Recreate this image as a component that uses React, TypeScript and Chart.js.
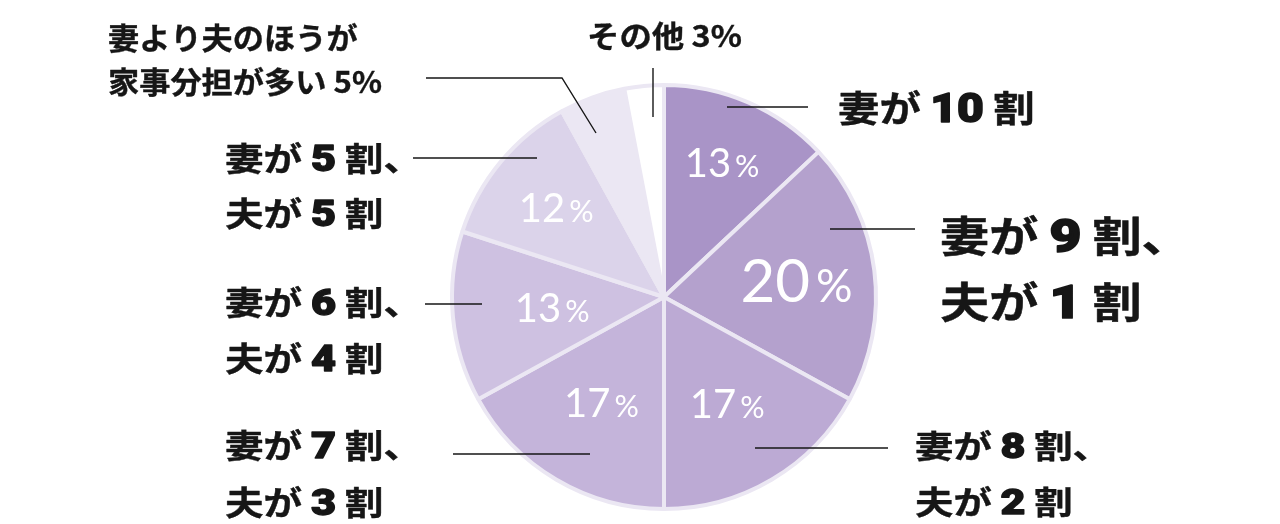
import { useEffect, useRef } from 'react';
import { Chart, ArcElement, PieController, type Plugin } from 'chart.js';

Chart.register(ArcElement, PieController);

// 家事分担の割合（妻:夫）
const categories = [
  '妻が10割',
  '妻が9割、夫が1割',
  '妻が8割、夫が2割',
  '妻が7割、夫が3割',
  '妻が6割、夫が4割',
  '妻が5割、夫が5割',
  '妻より夫のほうが家事分担が多い',
  'その他',
];
const shares = [13, 20, 17, 17, 13, 12, 5, 3];
const calloutLines = [
  ['妻が 10 割'],
  ['妻が 9 割、', '夫が 1 割'],
  ['妻が 8 割、', '夫が 2 割'],
  ['妻が 7 割、', '夫が 3 割'],
  ['妻が 6 割、', '夫が 4 割'],
  ['妻が 5 割、', '夫が 5 割'],
  ['妻より夫のほうが', '家事分担が多い 5%'],
  ['その他 3%'],
];

const sliceColors = ['#a994c7', '#b4a1cd', '#bcaad4', '#c4b4da', '#cec1e1', '#dbd3ea', '#ebe7f3', '#ffffff'];
const edgeColor = '#ebe7f3';
const ink = '#161616';
const CJK = '"Noto Sans CJK JP", "Noto Sans CJK SC", sans-serif';

// callout placement, offsets from the pie centre
const callouts = [
  { tx: 174, ty: [-189], size: 36, sx: 1.15, lead: [[63, -190], [144, -190]] },
  { tx: 276, ty: [-61, 5], size: 42, sx: 1.17, lead: [[166, -68], [251, -68]] },
  { tx: 251, ty: [149, 205], size: 32, sx: 1.2, lead: [[91, 151], [224, 151]] },
  { tx: -439, ty: [148, 205], size: 33, sx: 1.17, lead: [[-211, 157], [-74, 157]] },
  { tx: -439, ty: [5, 61], size: 33, sx: 1.17, lead: [[-239, 7], [-182, 7]] },
  { tx: -439, ty: [-139, -84], size: 33, sx: 1.17, lead: [[-251, -139], [-127, -139]] },
  { tx: -556, ty: [-259, -215], size: 30, sx: 1.04, lead: [[-238, -219], [-102, -219], [-68, -164]] },
  { tx: -77, ty: [-261], size: 30, sx: 1.08, lead: [[-11, -229], [-11, -180]] },
];

// percent labels inside slices: radius fraction + font size
const innerLabels = [
  { r: 0.69, size: 40 },
  { r: 0.63, size: 60 },
  { r: 0.585, size: 40 },
  { r: 0.58, size: 40 },
  { r: 0.53, size: 40 },
  { r: 0.66, size: 40 },
  null,
  null,
];

function drawRuns(ctx: CanvasRenderingContext2D, text: string, x: number, y: number, size: number, sx: number) {
  const parts = text.split(/(\d+)(?= 割)/);
  ctx.save();
  ctx.translate(x, y + size * 0.38);
  ctx.scale(sx, 1);
  ctx.textAlign = 'left';
  ctx.textBaseline = 'alphabetic';
  ctx.fillStyle = ink;
  ctx.strokeStyle = ink;
  ctx.lineJoin = 'round';
  let cur = 0;
  parts.forEach((p, i) => {
    const isNum = i % 2 === 1;
    ctx.font = isNum ? `900 ${size * 1.12}px Roboto, Lato` : `700 ${size}px ${CJK}`;
    ctx.fillText(p, cur, 0);
    ctx.lineWidth = isNum ? size * 0.04 : size * 0.012;
    ctx.strokeText(p, cur, 0);
    cur += ctx.measureText(p).width;
  });
  ctx.restore();
}

function drawPct(ctx: CanvasRenderingContext2D, value: number, x: number, y: number, size: number) {
  const num = String(value);
  const big = `400 ${size}px Lato`;
  const small = `400 ${size * 0.76}px Lato`;
  ctx.font = big;
  const w1 = ctx.measureText(num).width;
  ctx.font = small;
  const w2 = ctx.measureText('%').width;
  const gap = size * 0.1;
  const left = x - (w1 + gap + w2) / 2;
  const base = y + size * 0.36;
  ctx.fillStyle = '#ffffff';
  ctx.textAlign = 'left';
  ctx.textBaseline = 'alphabetic';
  ctx.font = big;
  ctx.fillText(num, left, base);
  ctx.font = small;
  ctx.fillText('%', left + w1 + gap, base);
}

const labelPlugin: Plugin<'pie'> = {
  id: 'pieLabels',
  afterDraw(chart) {
    const { ctx } = chart;
    const arcs = chart.getDatasetMeta(0).data as any[];
    if (!arcs.length) return;
    const cx = arcs[0].x;
    const cy = arcs[0].y;
    ctx.save();

    arcs.forEach((arc, i) => {
      const lab = innerLabels[i];
      if (!lab) return;
      const { startAngle, endAngle, outerRadius } = arc.getProps(['startAngle', 'endAngle', 'outerRadius'], true);
      const mid = (startAngle + endAngle) / 2;
      const r = outerRadius * lab.r;
      drawPct(ctx, shares[i], cx + Math.cos(mid) * r, cy + Math.sin(mid) * r, lab.size);
    });

    callouts.forEach((c, i) => {
      ctx.strokeStyle = ink;
      ctx.lineWidth = 1.4;
      ctx.beginPath();
      c.lead.forEach(([dx, dy], k) => {
        if (k === 0) ctx.moveTo(cx + dx, cy + dy);
        else ctx.lineTo(cx + dx, cy + dy);
      });
      ctx.stroke();
      calloutLines[i].forEach((line, k) => {
        drawRuns(ctx, line, cx + c.tx, cy + c.ty[k], c.size, c.sx);
      });
    });

    ctx.restore();
  },
};

export default function App() {
  const canvasRef = useRef<HTMLCanvasElement>(null);

  useEffect(() => {
    document.body.style.margin = '0';
    if (!canvasRef.current) return;
    const chart = new Chart(canvasRef.current, {
      type: 'pie',
      data: {
        labels: categories,
        datasets: [
          {
            data: shares,
            backgroundColor: sliceColors,
            borderColor: edgeColor,
            borderWidth: 4,
          },
        ],
      },
      options: {
        responsive: true,
        maintainAspectRatio: false,
        animation: false,
        layout: { padding: { left: 450, right: 402, top: 83, bottom: 13 } },
        plugins: { legend: { display: false }, tooltip: { enabled: false } },
        events: [],
      },
      plugins: [labelPlugin],
    });
    return () => chart.destroy();
  }, []);

  return (
    <div style={{ position: 'relative', width: 1280, height: 524, background: '#ffffff' }}>
      <canvas ref={canvasRef} />
    </div>
  );
}
